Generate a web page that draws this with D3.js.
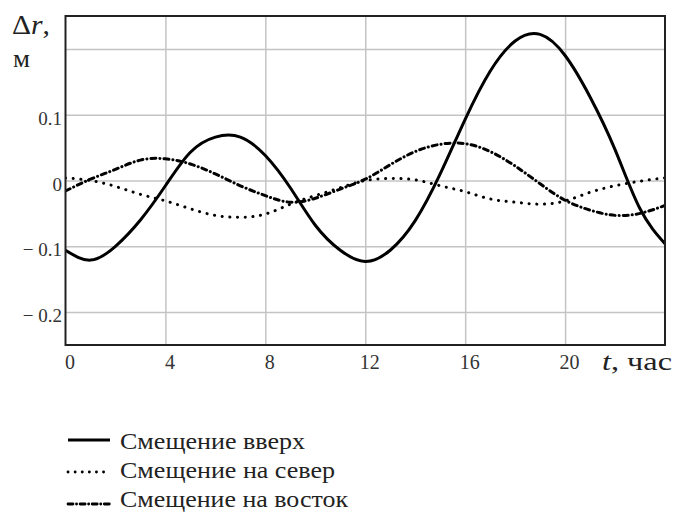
<!DOCTYPE html>
<html>
<head>
<meta charset="utf-8">
<script src="https://cdn.jsdelivr.net/npm/d3@7"></script>
<style>
  html, body { margin: 0; padding: 0; background: #fff; }
  svg { display: block; }
</style>
</head>
<body>
<svg id="chart" width="673" height="516"></svg>
<script>
// ---- data ----
const hours = [0,1,2,3,4,5,6,7,8,9,10,11,12,13,14,15,16,17,18,19,20,21,22,23,24];
const upValues = [-0.106,-0.121,-0.100,-0.060,-0.008,0.043,0.066,0.066,0.038,-0.011,
                  -0.068,-0.106,-0.123,-0.106,-0.061,0.010,0.093,0.166,0.212,0.222,
                  0.190,0.127,0.047,-0.043,-0.096];
const northValues = [0.004,0.000,-0.009,-0.021,-0.031,-0.043,-0.053,-0.056,-0.051,-0.036,
                     -0.023,-0.011,0.000,0.003,0.001,-0.008,-0.017,-0.028,-0.033,-0.036,
                     -0.031,-0.018,-0.008,-0.001,0.004];
const eastValues = [-0.016,0.002,0.017,0.031,0.033,0.025,0.010,-0.008,-0.023,-0.033,
                    -0.027,-0.013,0.002,0.024,0.044,0.055,0.056,0.044,0.022,-0.005,
                    -0.030,-0.045,-0.053,-0.050,-0.038];
const xTicks = [0,4,8,12,16,20];
const xGrid = [4,8,12,16,20];
const yGrid = [-0.2,-0.1,0,0.1,0.2];
const yTicks = [-0.2,-0.1,0,0.1];
const yTickLabels = ["− 0.2","− 0.1","0","0.1"];
const seriesNames = ["Смещение вверх","Смещение на север","Смещение на восток"];

// ---- layout ----
const FONT = '"Liberation Serif", "Times New Roman", Times, serif';
const svg = d3.select("#chart");
const L = 65.5, R = 665, T = 16, B = 345;
const x = d3.scaleLinear().domain([0,24]).range([L,R]);
const y = d3.scaleLinear().domain([-0.25,0.25]).range([B,T]);

svg.append("rect").attr("width",673).attr("height",516).attr("fill","#fff");

// grid
const gx = svg.append("g").attr("transform",`translate(0,${B})`)
  .call(d3.axisBottom(x).tickValues(xGrid).tickSize(-(B-T)).tickFormat(""));
gx.select(".domain").remove();
gx.selectAll("line").attr("stroke","#c4c4c4").attr("stroke-width",1.5);

const gy = svg.append("g").attr("transform",`translate(${L},0)`)
  .call(d3.axisLeft(y).tickValues(yGrid).tickSize(-(R-L)).tickFormat(""));
gy.select(".domain").remove();
gy.selectAll("line").attr("stroke","#c4c4c4").attr("stroke-width",1.5);

// tick labels
const ay = svg.append("g").attr("transform",`translate(${L},0)`)
  .call(d3.axisLeft(y).tickValues(yTicks).tickSize(0).tickPadding(3.5)
        .tickFormat((d,i) => yTickLabels[i]));
ay.attr("font-family",FONT);
ay.select(".domain").remove();
ay.selectAll("text").attr("font-size",19).attr("fill","#333").attr("dy","0.5em");

const ax = svg.append("g").attr("transform",`translate(0,${B})`)
  .call(d3.axisBottom(x).tickValues(xTicks).tickSize(0).tickPadding(9.8)
        .tickFormat(d3.format("d")));
ax.attr("font-family",FONT);
ax.select(".domain").remove();
ax.selectAll("text").attr("font-size",20).attr("fill","#333").attr("dx",4);

// series
const rows = hours.map((h,i) => ({t:h, up:upValues[i], n:northValues[i], e:eastValues[i]}));
svg.append("clipPath").attr("id","plotclip")
  .append("rect").attr("x",L).attr("y",T).attr("width",R-L).attr("height",B-T);
const mk = key => d3.line().x(d => x(d.t)).y(d => y(d[key])).curve(d3.curveNatural);
const pg = svg.append("g").attr("clip-path","url(#plotclip)");

const styles = [
  {key:"n", width:3, dash:"0.1,7.6", cap:"round"},
  {key:"e", width:3, dash:"5,4,0.1,4", cap:"round"},
  {key:"up", width:3, dash:null, cap:"butt"}
];
styles.forEach(s => {
  pg.append("path").datum(rows).attr("d", mk(s.key))
    .attr("fill","none").attr("stroke","#000").attr("stroke-width",s.width)
    .attr("stroke-linecap",s.cap).attr("stroke-dasharray",s.dash);
});

// frame
svg.append("rect").attr("x",L).attr("y",T).attr("width",R-L).attr("height",B-T)
  .attr("fill","none").attr("stroke","#222").attr("stroke-width",2);

// axis titles
const yt = svg.append("text").attr("x",12).attr("y",34).attr("font-size",27).attr("fill","#222")
  .attr("font-family",FONT).attr("textLength",38).attr("lengthAdjust","spacingAndGlyphs");
yt.append("tspan").text("Δ");
yt.append("tspan").attr("font-style","italic").text("r");
yt.append("tspan").text(",");
svg.append("text").attr("x",13).attr("y",67).attr("font-size",26).attr("fill","#222")
  .attr("font-family",FONT).attr("textLength",17).attr("lengthAdjust","spacingAndGlyphs").text("м");

const xt = svg.append("text").attr("x",602).attr("y",370).attr("font-size",26).attr("fill","#222")
  .attr("font-family",FONT).attr("textLength",70).attr("lengthAdjust","spacingAndGlyphs");
xt.append("tspan").attr("font-style","italic").text("t");
xt.append("tspan").text(", час");

// legend
const legendStyles = [
  {dash:null, cap:"butt", w:3},
  {dash:"0.1,7", cap:"round", w:2.8},
  {dash:"5,3.5,0.1,3.5", cap:"round", w:2.8}
];
const legendWidths = [185, 215, 228];
const legLineY = d3.scaleLinear().domain([0,2]).range([440,504]);
const legTextY = d3.scaleLinear().domain([0,2]).range([449,507]);
seriesNames.forEach((name,i) => {
  const g = svg.append("g");
  g.append("line").attr("x1",68).attr("x2",110).attr("y1",legLineY(i)).attr("y2",legLineY(i))
    .attr("stroke","#000").attr("stroke-width",legendStyles[i].w)
    .attr("stroke-dasharray",legendStyles[i].dash).attr("stroke-linecap",legendStyles[i].cap);
  g.append("text").attr("x",120).attr("y",legTextY(i)).attr("font-size",23).attr("fill","#222")
    .attr("font-family",FONT).attr("textLength",legendWidths[i]).attr("lengthAdjust","spacingAndGlyphs")
    .text(name);
});
</script>
</body>
</html>
